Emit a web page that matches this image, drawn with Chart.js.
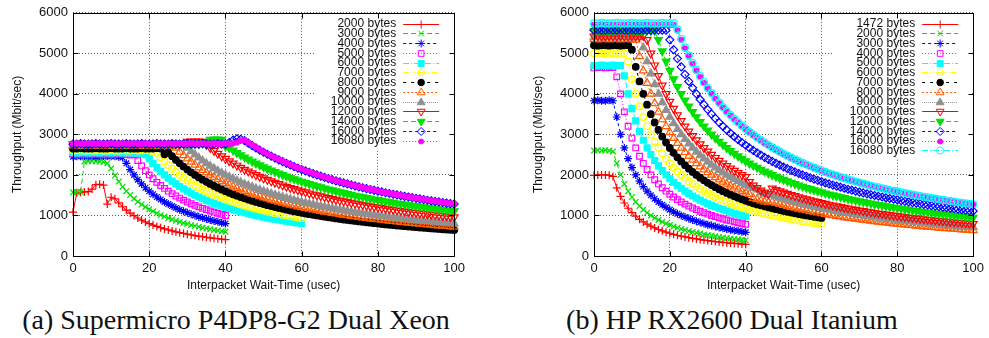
<!DOCTYPE html>
<html>
<head>
<meta charset="utf-8">
<script src="https://cdn.jsdelivr.net/npm/chart.js@4.4.1/dist/chart.umd.min.js"></script>
<style>
  html, body { margin: 0; padding: 0; background: #fff; overflow: hidden; }
  #page { position: relative; width: 989px; height: 338px; }
  canvas { position: absolute; top: 0; }
  #xeon { left: 0; }
  #itanium { left: 521px; }
  .caption {
    position: absolute; top: 304px; transform: translateX(-50%);
    font-family: "Liberation Serif", "Times New Roman", "DejaVu Serif", serif; font-size: 28px;
    color: #111; white-space: nowrap;
  }
</style>
</head>
<body>
<div id="page">
  <canvas id="xeon" width="470" height="300"></canvas>
  <canvas id="itanium" width="468" height="300"></canvas>
  <div class="caption" style="left:236px">(a) Supermicro P4DP8-G2 Dual Xeon</div>
  <div class="caption" style="left:732px">(b) HP RX2600 Dual Itanium</div>
</div>
<script>
// interpacket wait time, usec
const waitTimes = [0,1,2,3,4,5,6,7,8,9,10,11,12,13,14,15,16,17,18,19,20,21,22,23,24,25,26,27,28,29,30,31,32,33,34,35,36,37,38,39,40,41,42,43,44,45,46,47,48,49,50,51,52,53,54,55,56,57,58,59,60,61,62,63,64,65,66,67,68,69,70,71,72,73,74,75,76,77,78,79,80,81,82,83,84,85,86,87,88,89,90,91,92,93,94,95,96,97,98,99,100];

// packet sizes per box
const xeonSizes = [2000, 3000, 4000, 5000, 6000, 7000, 8000, 9000, 10000, 12000, 14000, 16000, 16080];
const itaniumSizes = [1472, 2000, 3000, 4000, 5000, 6000, 7000, 8000, 9000, 10000, 12000, 14000, 16000, 16080];

// Supermicro P4DP8-G2 throughput (Mbit/sec), one value per wait time
const xeon2000 = [1080,1560,1570,1580,1590,1650,1760,1770,1750,1280,1450,1410,1312,1215,1131,1058,994,937,886,841,800,763,729,698,669,643,619,596,575,556,538,521,505,490,475,462,449,437,426,415,405];
const xeon3000 = [1570,1570,1580,2330,2340,2340,2340,2330,2320,2290,2157,1984,1837,1710,1600,1503,1417,1341,1272,1210,1153,1102,1055,1012,973,936,902,870,841,813,787,763,740,719,699,679,661,644,628,612,598];
const xeon4000 = [2450,2460,2460,2470,2460,2460,2450,2460,2470,2460,2460,2460,2450,2430,2286,2133,2000,1882,1778,1684,1600,1524,1455,1391,1333,1280,1231,1185,1143,1103,1067,1032,1000,970,941,914,889,865,842,821,800];
const xeon5000 = [2520,2510,2510,2500,2510,2510,2520,2510,2500,2510,2510,2510,2520,2510,2500,2490,2500,2353,2222,2105,2000,1905,1818,1739,1667,1600,1538,1481,1429,1379,1333,1290,1250,1212,1176,1143,1111,1081,1053,1026,1000];
const xeon6000 = [2550,2540,2550,2550,2540,2550,2550,2540,2550,2550,2540,2550,2550,2540,2550,2550,2540,2540,2530,2500,2400,2286,2182,2087,2000,1920,1846,1778,1714,1655,1600,1548,1500,1455,1412,1371,1333,1297,1263,1231,1200,1171,1143,1116,1091,1067,1043,1021,1000,980,960,941,923,906,889,873,857,842,828,814,800];
const xeon7000 = [2600,2610,2600,2600,2610,2600,2600,2610,2600,2600,2610,2600,2600,2610,2600,2600,2610,2600,2600,2610,2600,2590,2545,2435,2333,2240,2154,2074,2000,1931,1867,1806,1750,1697,1647,1600,1556,1514,1474,1436,1400,1366,1333,1302,1273,1244,1217,1191,1167,1143,1120,1098,1077,1057,1037,1018,1000,982,966,949,933];
const xeon8000 = [2650,2650,2660,2650,2650,2650,2660,2650,2650,2650,2660,2650,2650,2650,2660,2650,2650,2650,2660,2650,2650,2650,2660,2650,2510,2560,2462,2370,2286,2207,2133,2065,2000,1939,1882,1829,1778,1730,1684,1641,1600,1561,1524,1488,1455,1422,1391,1362,1333,1306,1280,1255,1231,1208,1185,1164,1143,1123,1103,1085,1067,1049,1032,1016,1000,985,970,955,941,928,914,901,889,877,865,853,842,831,821,810,800,790,780,771,762,753,744,736,727,719,711,703,696,688,681,674,667,660,653,646,640];
const xeon9000 = [2720,2720,2710,2720,2720,2720,2710,2720,2720,2720,2710,2720,2720,2720,2710,2720,2720,2720,2710,2720,2720,2720,2710,2720,2720,2720,2710,2667,2571,2483,2400,2323,2250,2182,2118,2057,2000,1946,1895,1846,1800,1756,1714,1674,1636,1600,1565,1532,1500,1469,1440,1412,1385,1358,1333,1309,1286,1263,1241,1220,1200,1180,1161,1143,1125,1108,1091,1075,1059,1043,1029,1014,1000,986,973,960,947,935,923,911,900,889,878,867,857,847,837,828,818,809,800,791,783,774,766,758,750,742,735,727,720];
const xeon10000 = [2750,2740,2750,2750,2740,2750,2750,2740,2750,2750,2740,2750,2750,2740,2750,2750,2740,2750,2750,2740,2750,2750,2740,2750,2750,2740,2750,2750,2740,2750,2667,2581,2500,2424,2353,2286,2222,2162,2105,2051,2000,1951,1905,1860,1818,1778,1739,1702,1667,1633,1600,1569,1538,1509,1481,1455,1429,1404,1379,1356,1333,1311,1290,1270,1250,1231,1212,1194,1176,1159,1143,1127,1111,1096,1081,1067,1053,1039,1026,1013,1000,988,976,964,952,941,930,920,909,899,889,879,870,860,851,842,833,825,816,808,800];
const xeon12000 = [2760,2760,2770,2760,2760,2760,2770,2760,2760,2760,2770,2760,2760,2760,2770,2760,2760,2760,2770,2760,2760,2760,2770,2760,2760,2760,2770,2760,2760,2770,2820,2830,2830,2830,2820,2743,2667,2595,2526,2462,2400,2341,2286,2233,2182,2133,2087,2043,2000,1959,1920,1882,1846,1811,1778,1745,1714,1684,1655,1627,1600,1574,1548,1524,1500,1477,1455,1433,1412,1391,1371,1352,1333,1315,1297,1280,1263,1247,1231,1215,1200,1185,1171,1157,1143,1129,1116,1103,1091,1079,1067,1055,1043,1032,1021,1011,1000,990,980,970,960];
const xeon14000 = [2770,2770,2760,2770,2770,2770,2760,2770,2770,2770,2760,2770,2770,2770,2760,2770,2770,2770,2760,2770,2770,2770,2760,2770,2770,2770,2760,2770,2770,2770,2760,2770,2770,2770,2780,2790,2870,2880,2880,2870,2700,2667,2605,2545,2489,2435,2383,2333,2286,2240,2196,2154,2113,2074,2036,2000,1965,1931,1898,1867,1836,1806,1778,1750,1723,1697,1672,1647,1623,1600,1577,1556,1534,1514,1493,1474,1455,1436,1418,1400,1383,1366,1349,1333,1318,1302,1287,1273,1258,1244,1231,1217,1204,1191,1179,1167,1155,1143,1131,1120,1109];
const xeon16000 = [2760,2760,2770,2760,2760,2760,2770,2760,2760,2760,2770,2760,2760,2760,2770,2760,2760,2760,2770,2760,2760,2760,2770,2760,2760,2760,2770,2760,2760,2760,2770,2760,2760,2760,2770,2760,2760,2760,2770,2760,2760,2800,2860,2890,2880,2844,2783,2723,2667,2612,2560,2510,2462,2415,2370,2327,2286,2246,2207,2169,2133,2098,2065,2032,2000,1969,1939,1910,1882,1855,1829,1803,1778,1753,1730,1707,1684,1662,1641,1620,1600,1580,1561,1542,1524,1506,1488,1471,1455,1438,1422,1407,1391,1376,1362,1347,1333,1320,1306,1293,1280];
const xeon16080 = [2770,2780,2770,2770,2780,2770,2770,2780,2770,2770,2780,2770,2770,2780,2770,2770,2780,2770,2770,2780,2770,2770,2780,2770,2770,2780,2770,2770,2780,2770,2770,2780,2770,2770,2780,2770,2770,2780,2770,2770,2780,2770,2780,2800,2850,2859,2797,2737,2680,2625,2573,2522,2474,2427,2382,2339,2297,2257,2218,2180,2144,2109,2075,2042,2010,1979,1949,1920,1892,1864,1838,1812,1787,1762,1738,1715,1693,1671,1649,1628,1608,1588,1569,1550,1531,1513,1496,1479,1462,1445,1429,1414,1398,1383,1369,1354,1340,1326,1313,1299,1286];

// HP RX2600 throughput (Mbit/sec)
const itanium1472 = [1990,2000,2000,2000,1990,1963,1682,1472,1308,1178,1071,981,906,841,785,736,693,654,620,589,561,535,512,491,471,453,436,421,406,393,380,368,357,346,336,327,318,310,302,294,287];
const itanium2000 = [2600,2610,2600,2610,2600,2580,2286,2000,1778,1600,1455,1333,1231,1143,1067,1000,941,889,842,800,762,727,696,667,640,615,593,571,552,533,516,500,485,471,457,444,432,421,410,400,390];
const itanium3000 = [3830,3840,3830,3830,3840,3830,3429,3000,2667,2400,2182,2000,1846,1714,1600,1500,1412,1333,1263,1200,1143,1091,1043,1000,960,923,889,857,828,800,774,750,727,706,686,667,649,632,615,600,585];
const itanium4000 = [4640,4650,4650,4640,4650,4650,4420,4000,3556,3200,2909,2667,2462,2286,2133,2000,1882,1778,1684,1600,1524,1455,1391,1333,1280,1231,1185,1143,1103,1067,1032,1000,970,941,914,889,865,842,821,800,780];
const itanium5000 = [4700,4700,4710,4700,4700,4710,4700,4700,4444,4000,3636,3333,3077,2857,2667,2500,2353,2222,2105,2000,1905,1818,1739,1667,1600,1538,1481,1429,1379,1333,1290,1250,1212,1176,1143,1111,1081,1053,1026,1000,976];
const itanium6000 = [5000,5010,5000,5000,5010,5000,5000,5010,5000,4800,4364,4000,3692,3429,3200,3000,2824,2667,2526,2400,2286,2182,2087,2000,1920,1846,1778,1714,1655,1600,1548,1500,1455,1412,1371,1333,1297,1263,1231,1200,1171,1143,1116,1091,1067,1043,1021,1000,980,960,941,923,906,889,873,857,842,828,814,800,787];
const itanium7000 = [5200,5190,5200,5200,5190,5200,5200,5190,5200,5200,5091,4667,4308,4000,3733,3500,3294,3111,2947,2800,2667,2545,2435,2333,2240,2154,2074,2000,1931,1867,1806,1750,1697,1647,1600,1556,1514,1474,1436,1400,1366,1333,1302,1273,1250,1225,1201,1178,1155,1133,1112,1092,1072,1053,1035,1017,1000,984,968,953,940];
const itanium8000 = [5350,5340,5350,5350,5340,5350,5350,5340,5350,5350,5340,5333,4923,4571,4267,4000,3765,3556,3368,3200,3048,2909,2783,2667,2560,2462,2370,2286,2207,2133,2065,2000,1939,1882,1829,1778,1730,1684,1641,1600,1561,1524,1430,1395,1365,1340,1320,1333,1306,1280,1255,1231,1208,1185,1164,1143,1123,1103,1085,1067,1049,1032,1016,1000,985,970,955,941,928,914,901,889,877,865,853,842,831,821,810,800,790,780,771,762,753,744,736,727,719,711,703,696,688,681,674,667,660,653,646,640,634];
const itanium9000 = [5400,5400,5390,5400,5400,5400,5390,5400,5400,5400,5390,5400,5400,5143,4800,4500,4235,4000,3789,3600,3429,3273,3130,3000,2880,2769,2667,2571,2483,2400,2323,2250,2182,2118,2057,2000,1946,1895,1846,1800,1756,1714,1674,1636,1560,1530,1500,1500,1469,1440,1412,1385,1358,1333,1309,1286,1263,1241,1220,1200,1180,1161,1143,1125,1108,1091,1075,1059,1043,1029,1014,1000,986,973,960,947,935,923,911,900,889,878,867,857,847,837,828,818,809,800,791,783,774,766,758,750,742,735,727,720,713];
const itanium10000 = [5420,5430,5420,5420,5430,5420,5420,5430,5420,5420,5430,5420,5420,5430,5333,5000,4706,4444,4211,4000,3810,3636,3478,3333,3200,3077,2963,2857,2759,2667,2581,2500,2424,2353,2286,2222,2162,2105,2051,2000,1951,1830,1740,1680,1620,1570,1530,1667,1633,1600,1569,1538,1509,1481,1455,1429,1404,1379,1356,1333,1311,1290,1270,1250,1231,1212,1194,1176,1159,1143,1127,1111,1096,1081,1067,1053,1039,1026,1013,1000,988,976,964,952,941,930,920,909,899,889,879,870,860,851,842,833,825,816,808,800,792];
const itanium12000 = [5550,5550,5560,5550,5550,5550,5560,5550,5550,5550,5560,5550,5550,5550,5560,5550,5550,5333,5053,4800,4571,4364,4174,4000,3840,3692,3556,3429,3310,3200,3097,3000,2909,2824,2743,2667,2595,2526,2462,2400,2341,2286,2233,2182,2133,2087,2043,2000,1959,1920,1882,1846,1811,1778,1745,1714,1684,1655,1627,1600,1574,1548,1524,1500,1477,1455,1433,1412,1391,1371,1352,1333,1315,1297,1280,1263,1247,1231,1215,1200,1185,1171,1157,1143,1129,1116,1103,1091,1079,1067,1055,1043,1032,1021,1011,1000,990,980,970,960,950];
const itanium14000 = [5570,5580,5570,5570,5580,5570,5570,5580,5570,5570,5580,5570,5570,5580,5570,5570,5580,5570,5570,5570,5333,5091,4870,4667,4480,4308,4148,4000,3862,3733,3613,3500,3394,3294,3200,3111,3027,2947,2872,2800,2732,2667,2605,2545,2489,2435,2383,2333,2286,2240,2196,2154,2113,2074,2036,2000,1965,1931,1898,1867,1836,1806,1778,1750,1723,1697,1672,1647,1623,1600,1577,1556,1534,1514,1493,1474,1455,1436,1418,1400,1383,1366,1349,1333,1318,1302,1287,1273,1258,1244,1231,1217,1204,1191,1179,1167,1155,1143,1131,1120,1109];
const itanium16000 = [5700,5700,5710,5700,5700,5700,5710,5700,5700,5700,5710,5700,5700,5700,5710,5700,5700,5700,5710,5700,5700,5700,5565,5333,5120,4923,4741,4571,4414,4267,4129,4000,3879,3765,3657,3556,3459,3368,3282,3200,3122,3048,2977,2909,2844,2783,2723,2667,2612,2560,2510,2462,2415,2370,2327,2286,2246,2207,2169,2133,2098,2065,2032,2000,1969,1939,1910,1882,1855,1829,1803,1778,1753,1730,1707,1684,1662,1641,1620,1600,1580,1561,1542,1524,1506,1488,1471,1455,1438,1422,1407,1391,1376,1362,1347,1333,1320,1306,1293,1280,1267];
const itanium16080 = [5740,5740,5750,5740,5740,5740,5750,5740,5740,5740,5750,5740,5740,5740,5750,5740,5740,5740,5750,5740,5740,5740,5593,5360,5146,4948,4764,4594,4436,4288,4150,4020,3898,3784,3675,3573,3477,3385,3298,3216,3138,3063,2992,2924,2859,2797,2737,2680,2625,2573,2522,2474,2427,2382,2339,2297,2257,2218,2180,2144,2109,2075,2042,2010,1979,1949,1920,1892,1864,1838,1812,1787,1762,1738,1715,1693,1671,1649,1628,1608,1588,1569,1550,1531,1513,1496,1479,1462,1445,1429,1414,1398,1383,1369,1354,1340,1326,1313,1299,1286,1274];

const xeonSeries = [xeon2000, xeon3000, xeon4000, xeon5000, xeon6000, xeon7000, xeon8000, xeon9000, xeon10000, xeon12000, xeon14000, xeon16000, xeon16080];
const itaniumSeries = [itanium1472, itanium2000, itanium3000, itanium4000, itanium5000, itanium6000, itanium7000, itanium8000, itanium9000, itanium10000, itanium12000, itanium14000, itanium16000, itanium16080];

// gnuplot-like line types, cycled in plotting order
const lineTypes = [
  { color: '#ff0000', dash: [], point: 'cross', radius: 4 },
  { color: '#00e000', dash: [5, 3], point: 'crossRot', radius: 4 },
  { color: '#0000ff', dash: [3, 3], point: 'star', radius: 4 },
  { color: '#ff00ff', dash: [1, 2], point: 'rect', radius: 4 },
  { color: '#00ffff', dash: [6, 2, 1, 2], point: 'rect', radius: 4.2, filled: true },
  { color: '#ffff00', dash: [6, 2, 1, 2, 1, 2], point: 'circle', radius: 3.3 },
  { color: '#000000', dash: [3, 5], point: 'circle', radius: 3.3, filled: true },
  { color: '#ff5a00', dash: [2, 2], point: 'triangle', radius: 4.5 },
  { color: '#909090', dash: [1, 1], point: 'triangle', radius: 4.5, filled: true },
  { color: '#ff0000', dash: [], point: 'triangle', radius: 4.5, rotation: 180 },
  { color: '#00e000', dash: [5, 3], point: 'triangle', radius: 4.5, rotation: 180, filled: true },
  { color: '#0000ff', dash: [3, 3], point: 'rectRot', radius: 4 },
  { color: '#ff00ff', dash: [1, 2], point: 'circle', radius: 2.5, filled: true },
  { color: '#00ffff', dash: [6, 2, 1, 2], point: 'circle', radius: 3.5 }
];

const FONT = '"Liberation Sans", Arial, sans-serif';
Chart.defaults.font.family = FONT;
Chart.defaults.color = '#111';

function buildDatasets(sizes, series) {
  return series.map((values, i) => {
    const lt = lineTypes[i];
    return {
      label: sizes[i] + ' bytes',
      data: values.map((v, k) => ({ x: waitTimes[k], y: v })),
      borderColor: lt.color,
      borderWidth: 1,
      borderDash: lt.dash,
      pointStyle: lt.point,
      pointRotation: lt.rotation || 0,
      pointRadius: lt.radius,
      pointBorderWidth: 1.2,
      pointBorderColor: lt.color,
      pointBackgroundColor: lt.filled ? lt.color : 'rgba(0,0,0,0)',
      tension: 0,
      clip: false,
      order: series.length - i  // later sizes end up on top
    };
  });
}

// key in the top right corner: label, line sample, marker
const keyBox = {
  id: 'keyBox',
  beforeDatasetsDraw(chart) {
    const { ctx, chartArea: a } = chart;
    const sets = chart.data.datasets;
    const rowH = 9.75;
    ctx.save();
    ctx.fillStyle = '#fff';
    ctx.fillRect(a.right - 140, a.top + 1, 139, 18 + (sets.length - 1) * rowH);
    ctx.font = '12px ' + FONT;
    ctx.textAlign = 'right';
    ctx.textBaseline = 'middle';
    sets.forEach((ds, i) => {
      const y = a.top + 10.7 + i * rowH;
      ctx.fillStyle = '#111';
      ctx.fillText(ds.label, a.right - 58, y + 0.5);
      ctx.strokeStyle = ds.borderColor;
      ctx.lineWidth = 1;
      ctx.setLineDash(ds.borderDash);
      ctx.beginPath();
      ctx.moveTo(a.right - 51, Math.round(y) + 0.5);
      ctx.lineTo(a.right - 15, Math.round(y) + 0.5);
      ctx.stroke();
      ctx.setLineDash([]);
      ctx.fillStyle = ds.pointBackgroundColor;
      Chart.helpers.drawPoint(ctx, {
        pointStyle: ds.pointStyle, rotation: ds.pointRotation,
        radius: ds.pointRadius, borderWidth: 1
      }, a.right - 33, Math.round(y) + 0.5);
    });
    ctx.restore();
  }
};

// closed border with inward tick marks on all four sides
const frame = {
  id: 'frame',
  afterDatasetsDraw(chart) {
    const { ctx, chartArea: a, scales } = chart;
    const l = Math.round(a.left) + 0.5, r = Math.round(a.right) + 0.5;
    const t = Math.round(a.top) + 0.5, b = Math.round(a.bottom) + 0.5;
    ctx.save();
    ctx.strokeStyle = '#000';
    ctx.lineWidth = 1;
    ctx.setLineDash([]);
    ctx.strokeRect(l, t, r - l, b - t);
    ctx.beginPath();
    scales.x.ticks.forEach(tk => {
      const px = Math.round(scales.x.getPixelForValue(tk.value)) + 0.5;
      ctx.moveTo(px, b); ctx.lineTo(px, b - 5);
      ctx.moveTo(px, t); ctx.lineTo(px, t + 5);
    });
    scales.y.ticks.forEach(tk => {
      const py = Math.round(scales.y.getPixelForValue(tk.value)) + 0.5;
      ctx.moveTo(l, py); ctx.lineTo(l + 5, py);
      ctx.moveTo(r, py); ctx.lineTo(r - 5, py);
    });
    ctx.stroke();
    ctx.restore();
  }
};

const plainNumber = v => String(v);

function makeChart(id, sizes, series) {
  return new Chart(document.getElementById(id), {
    type: 'line',
    data: { datasets: buildDatasets(sizes, series) },
    options: {
      responsive: false,
      animation: false,
      events: [],
      devicePixelRatio: 1,
      layout: { padding: { top: 12, right: 12, bottom: 0, left: 0 } },
      plugins: { legend: { display: false }, tooltip: { enabled: false } },
      scales: {
        x: {
          type: 'linear', min: 0, max: 100,
          ticks: { stepSize: 20, padding: 5, maxRotation: 0, color: '#111', font: { size: 13 }, callback: plainNumber },
          grid: { color: 'rgba(0,0,0,0.65)', lineWidth: 1, drawTicks: false },
          border: { display: false, dash: [1, 2] },
          title: {
            display: true, text: 'Interpacket Wait-Time (usec)', color: '#111',
            font: { size: 12 }, padding: { top: 0, bottom: 7 }
          },
          afterFit(scale) { scale.height = 44; }
        },
        y: {
          type: 'linear', min: 0, max: 6000,
          ticks: { stepSize: 1000, padding: 5, color: '#111', font: { size: 13 }, callback: plainNumber },
          grid: { color: 'rgba(0,0,0,0.65)', lineWidth: 1, drawTicks: false },
          border: { display: false, dash: [1, 2] },
          title: {
            display: true, text: 'Throughput (Mbit/sec)', color: '#111',
            font: { size: 12 }, padding: { top: 10, bottom: 0 }
          },
          afterFit(scale) { scale.width = 73; }
        }
      }
    },
    plugins: [keyBox, frame]
  });
}

makeChart('xeon', xeonSizes, xeonSeries);
makeChart('itanium', itaniumSizes, itaniumSeries);
</script>
</body>
</html>
